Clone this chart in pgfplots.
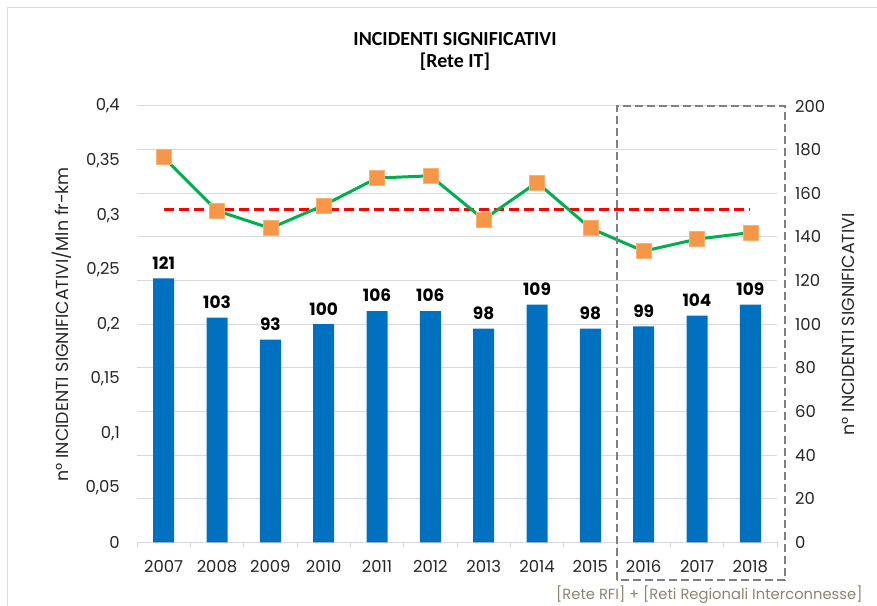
\documentclass[border=0pt]{standalone}
\usepackage{fontspec}
\setmainfont{Poppins}
\newfontfamily\titlefont{Carlito}
\usepackage{pgfplots}
\pgfplotsset{compat=1.18}
\definecolor{barblue}{HTML}{0070C0}
\definecolor{linegreen}{HTML}{00B050}
\definecolor{markorange}{HTML}{F79646}
\definecolor{refred}{HTML}{FF0000}
\definecolor{gridgray}{HTML}{D9D9D9}
\definecolor{boxgray}{HTML}{808080}
\definecolor{footgray}{HTML}{8A8570}
\definecolor{labelgray}{HTML}{262626}
\newcommand\tickfont{\fontsize{16.5}{16.5}\selectfont}
\newcommand\labelfont{\fontsize{17.5}{17.5}\selectfont}

\begin{document}
\begin{tikzpicture}
\useasboundingbox (0,0) rectangle (877bp,606bp);
\draw[gridgray, line width=1bp] (7bp,0) -- (7bp,598bp) -- (877bp,598bp);

\node[font=\titlefont\bfseries\fontsize{20}{20}\selectfont, text=black] at (455bp,567bp) {INCIDENTI SIGNIFICATIVI};
\node[font=\titlefont\bfseries\fontsize{20}{20}\selectfont, text=black] at (455bp,544bp) {[Rete IT]};

% bars: right axis
\begin{axis}[
    at={(137bp,63.5bp)}, anchor=south west,
    scale only axis, width=640bp, height=436.5bp,
    xmin=-0.5, xmax=11.5, ymin=0, ymax=200,
    axis y line*=right, axis x line*=bottom,
    y axis line style={draw=none},
    x axis line style={gridgray, line width=1.2bp, -},
    ytick={0,20,...,200},
    ymajorgrids, major grid style={gridgray, line width=1bp},
    xtick={0,...,11},
    xticklabels={2007,2008,2009,2010,2011,2012,2013,2014,2015,2016,2017,2018},
    minor xtick={-0.5,0.5,...,11.5},
    major tick length=0pt, minor tick length=5bp,
    tick align=outside,
    minor tick style={gridgray, line width=1bp},
    /pgf/number format/assume math mode=true,
    tick label style={font=\tickfont, text=labelgray},
    xticklabel style={inner sep=0pt, anchor=north, yshift=-18bp},
    yticklabel style={inner sep=0pt, anchor=west, xshift=18bp},
    ylabel={n° INCIDENTI SIGNIFICATIVI},
    ylabel style={at={(axis description cs:1.111,0.5)}, anchor=center, font=\labelfont, text=labelgray},
    ybar, bar width=21bp, bar shift=0pt,
    nodes near coords,
    nodes near coords style={font=\bfseries\fontsize{17}{17}\selectfont, text=black, inner sep=0pt, anchor=south, yshift=9bp},
    clip=false,
]
\addplot[fill=barblue, draw=none] coordinates {
  (0,121) (1,103) (2,93) (3,100) (4,106) (5,106)
  (6,98) (7,109) (8,98) (9,99) (10,104) (11,109)};
\end{axis}

% rate: left axis
\begin{axis}[
    at={(137bp,63.5bp)}, anchor=south west,
    scale only axis, width=640bp, height=436.5bp,
    xmin=-0.5, xmax=11.5, ymin=0, ymax=0.4,
    axis x line=none, axis y line*=left,
    y axis line style={draw=none},
    ytick={0,0.05,0.1,0.15,0.2,0.25,0.3,0.35,0.4},
    yticklabels={0,{0,05},{0,1},{0,15},{0,2},{0,25},{0,3},{0,35},{0,4}},
    major tick length=0pt,
    tick label style={font=\tickfont, text=labelgray},
    yticklabel style={inner sep=0pt, anchor=east, xshift=-17bp},
    ylabel={n° INCIDENTI SIGNIFICATIVI/Mln fr-km},
    ylabel style={at={(axis description cs:-0.117,0.5)}, anchor=center, font=\labelfont, text=labelgray},
    clip=false,
]
\addplot[refred, line width=3.5bp, dash pattern=on 10bp off 5bp] coordinates {(0,0.305) (11,0.305)};
\addplot[linegreen, line width=3bp, mark=square*, mark size=7.5bp,
  mark options={fill=markorange, draw=markorange!75!white, line width=0.6bp, solid}] coordinates {
  (0,0.353) (1,0.304) (2,0.288) (3,0.309) (4,0.334) (5,0.336)
  (6,0.296) (7,0.330) (8,0.288) (9,0.267) (10,0.278) (11,0.284)};
\draw[boxgray, line width=2.5bp, dash pattern=on 8bp off 4bp]
  (axis cs:8.5,-0.0344) rectangle (axis cs:11.65,0.4);
\end{axis}

\node[anchor=east, text=footgray, font=\fontsize{14.8}{14.8}\selectfont] at (866bp,11bp) {[Rete RFI] + [Reti Regionali Interconnesse]};
\end{tikzpicture}
\end{document}
